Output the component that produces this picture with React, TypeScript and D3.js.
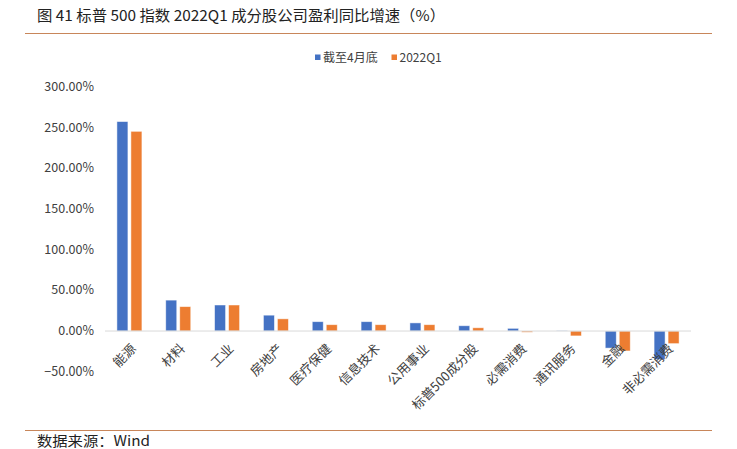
import React from "react";
import * as d3 from "d3";

const categories = ["能源", "材料", "工业", "房地产", "医疗保健", "信息技术", "公用事业", "标普500成分股", "必需消费", "通讯服务", "金融", "非必需消费"];
const seriesNames = ["截至4月底", "2022Q1"];
const seriesApril = [257.5, 38, 32, 19.5, 11.5, 11.5, 10, 6.5, 3.3, 0.3, -21, -35];
const seriesQ1 = [245.5, 30, 32, 15, 7.8, 7.8, 7.8, 4, -1.5, -6, -24.5, -15.5];
const yTicks = [-50, 0, 50, 100, 150, 200, 250, 300];
const colors = ["#4472C4", "#ED7D31"];

const W = 737;
const H = 449;
const FONT = "'Noto Sans CJK SC', 'Noto Sans', sans-serif";

export default function App() {
  const x = d3.scaleBand<string>().domain(categories).range([105, 691]);
  const y = d3.scaleLinear().domain([-50, 300]).range([371.7, 87]);
  const barW = 11;
  const gap = 3;
  const series = [seriesApril, seriesQ1];
  return (
    <svg width={W} height={H} style={{ position: "absolute", left: 0, top: 0, background: "#fff" }}>
      <text x={37} y={21} fontFamily={FONT} fontSize={15} fill="#222" textLength={408} lengthAdjust="spacingAndGlyphs">
        图 41 标普 500 指数 2022Q1 成分股公司盈利同比增速（%）
      </text>
      <line x1={25} x2={712} y1={33.5} y2={33.5} stroke="#C8865A" strokeWidth={1} />
      {/* legend */}
      {seriesNames.map((n, i) => {
        const lx = i === 0 ? 315 : 391.5;
        return (
          <g key={n}>
            <rect x={lx} y={54.5} width={5.5} height={5.5} fill={colors[i]} />
            <text x={lx + 8} y={61.5} fontFamily={FONT} fontSize={12} fill="#404040">{n}</text>
          </g>
        );
      })}
      {/* y axis labels */}
      {yTicks.map((t) => (
        <text key={t} x={94} y={y(t) + 4} textAnchor="end" fontFamily={FONT} fontSize={12.5} fill="#404040">
          {d3.format(".2f")(t) + "%"}
        </text>
      ))}
      {/* bars */}
      {categories.map((c, ci) => {
        const cx = (x(c) as number) + x.bandwidth() / 2;
        return series.map((s, si) => {
          const v = s[ci];
          const bx = si === 0 ? cx - gap / 2 - barW : cx + gap / 2;
          const y0 = y(0);
          const yv = y(v);
          return (
            <rect
              key={c + si}
              x={bx}
              y={Math.min(y0, yv)}
              width={barW}
              height={Math.abs(yv - y0)}
              fill={colors[si]}
              stroke="#fff"
              strokeOpacity={0.6}
              strokeWidth={0.8}
            />
          );
        });
      })}
      <line x1={105} x2={691} y1={y(0)} y2={y(0)} stroke="#D9D9D9" strokeWidth={1} />
      {/* x labels */}
      {categories.map((c) => {
        const cx = (x(c) as number) + x.bandwidth() / 2;
        return (
          <text
            key={c}
            transform={`translate(${cx - 1},${y(0) + 10}) rotate(-45)`}
            textAnchor="end"
            dominantBaseline="hanging"
            fontFamily={FONT}
            fontSize={13}
            fill="#404040"
          >
            {c}
          </text>
        );
      })}
      <line x1={25} x2={712} y1={430.5} y2={430.5} stroke="#C8865A" strokeWidth={1} />
      <text x={37} y={446} fontFamily={FONT} fontSize={14} fill="#222" textLength={113} lengthAdjust="spacingAndGlyphs">
        数据来源：Wind
      </text>
    </svg>
  );
}
